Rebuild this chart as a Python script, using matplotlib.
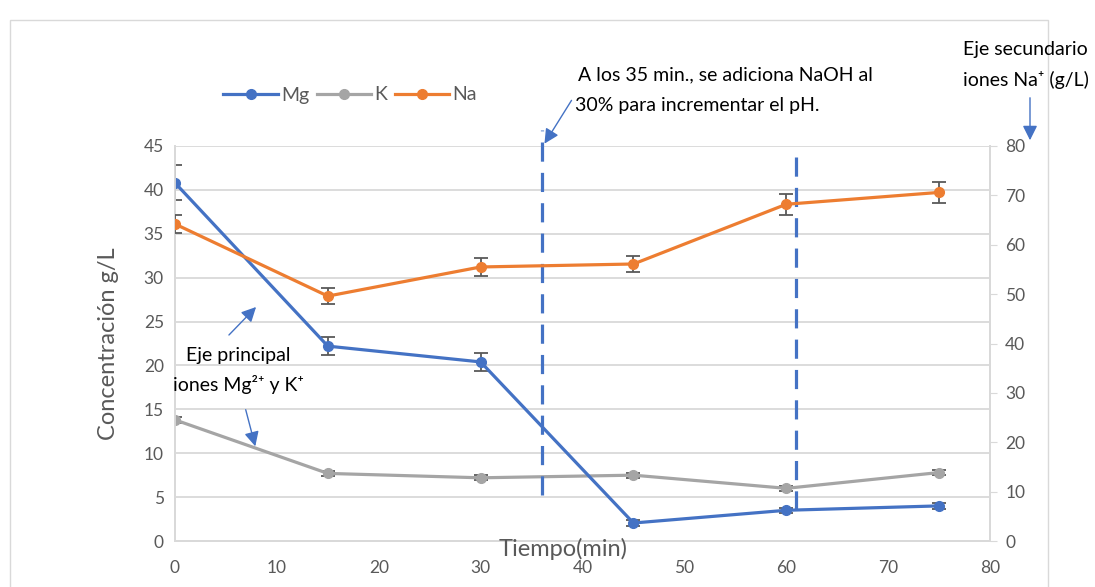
import matplotlib
matplotlib.use("Agg")
import matplotlib.pyplot as plt
from matplotlib.patches import Rectangle, FancyArrowPatch
from matplotlib.lines import Line2D

plt.rcParams['font.family'] = ['Lato', 'DejaVu Sans']

# muestreo cada 15 min
tiempo = [0, 15, 30, 45, 60, 75]
mg = [40.8, 22.2, 20.4, 2.05, 3.5, 4.0]
mg_err = [2.0, 1.0, 1.0, 0.3, 0.3, 0.3]
k = [13.8, 7.7, 7.2, 7.5, 6.0, 7.8]
k_err = [0.3, 0.3, 0.3, 0.3, 0.3, 0.3]
na = [64.2, 49.6, 55.5, 56.1, 68.2, 70.6]
na_err = [1.9, 1.6, 1.8, 1.7, 2.1, 2.2]

# momentos de adicion de NaOH (lineas verticales)
adicion_x = [36, 61]
adicion_y = [(5.2, 46.8), (3.5, 44.8)]

C_MG = '#4472C4'
C_K = '#A5A5A5'
C_NA = '#ED7D31'
C_ERR = '#595959'
C_TXT = '#595959'
C_GRID = '#D9D9D9'

W, H = 1095, 587
fig = plt.figure(figsize=(W / 100, H / 100), dpi=100)


def px(x, y):
    return x / W, 1 - y / H


# marco del grafico
fig.patches.append(Rectangle(px(10, 600), (1048 - 10) / W, (600 - 20) / H,
                             transform=fig.transFigure, fill=False,
                             edgecolor=C_GRID, lw=1))

ax = fig.add_axes([175 / W, 1 - 541 / H, (990 - 175) / W, (541 - 146) / H])
ax2 = ax.twinx()

line_kw = dict(lw=2.3, marker='o', markersize=7, ecolor=C_ERR,
               elinewidth=1.3, capsize=5, capthick=1.3)
ax.errorbar(tiempo, mg, yerr=mg_err, color=C_MG, zorder=4, **line_kw)
ax.errorbar(tiempo, k, yerr=k_err, color=C_K, zorder=3, **line_kw)
ax2.errorbar(tiempo, na, yerr=na_err, color=C_NA, zorder=3, **line_kw)

for xv, (y0, y1) in zip(adicion_x, adicion_y):
    ax.plot([xv, xv], [y0, y1], color=C_MG, lw=2.3, ls=(0, (6, 3.5)),
            clip_on=False, zorder=5)

ax.set_xlim(0, 80)
ax.set_ylim(0, 45)
ax2.set_ylim(0, 80)
ax.set_xticks(range(0, 81, 10))
ax.set_yticks(range(0, 46, 5))
ax2.set_yticks(range(0, 81, 10))
ax.grid(axis='y', color=C_GRID, lw=1.3)
ax.set_axisbelow(True)

for a in (ax, ax2):
    for s in a.spines.values():
        s.set_color(C_GRID)
        s.set_linewidth(1.3)
    a.spines['top'].set_visible(False)
ax.tick_params(axis='both', length=0, labelsize=12.5, labelcolor=C_TXT, pad=8)
ax.tick_params(axis='x', pad=14)
ax2.tick_params(axis='y', length=5, color=C_GRID, labelsize=12.5,
                labelcolor=C_TXT, pad=6)

ax.set_ylabel('Concentración g/L', fontsize=17, color=C_TXT, labelpad=18)
fig.text(*px(563, 549), 'Tiempo(min)', ha='center', va='center',
         fontsize=17, color=C_TXT)

handles = [Line2D([], [], color=c, lw=2.3, marker='o', markersize=7)
           for c in (C_MG, C_K, C_NA)]
fig.legend(handles=handles, labels=['Mg', 'K', 'Na'],
           loc='center', bbox_to_anchor=px(350, 95), ncol=3, frameon=False,
           fontsize=14, handlelength=2.8, handletextpad=0.15,
           columnspacing=0.4, labelcolor=C_TXT)

# anotaciones
txt_kw = dict(fontsize=14, color='black', va='center')
fig.text(*px(578, 75), 'A los 35 min., se adiciona NaOH al', **txt_kw)
fig.text(*px(575, 105), '30% para incrementar el pH.', **txt_kw)
fig.text(*px(963, 50), 'Eje secundario', **txt_kw)
fig.text(*px(963, 80), 'iones Na\u207a (g/L)', **txt_kw)
fig.text(*px(186, 356), 'Eje principal', **txt_kw)
fig.text(*px(173, 384), 'iones Mg\u00b2\u207a y K\u207a', **txt_kw)

arrow_kw = dict(arrowstyle='-|>', color=C_MG, lw=1, mutation_scale=22)
for start, end in [((573, 98), (543, 146)),
                   ((1030, 95), (1030, 143)),
                   ((227, 337), (258, 305)),
                   ((245, 407), (256, 449))]:
    fig.add_artist(FancyArrowPatch(px(*start), px(*end),
                                   transform=fig.transFigure, **arrow_kw))

fig.savefig('out.png', dpi=100)
